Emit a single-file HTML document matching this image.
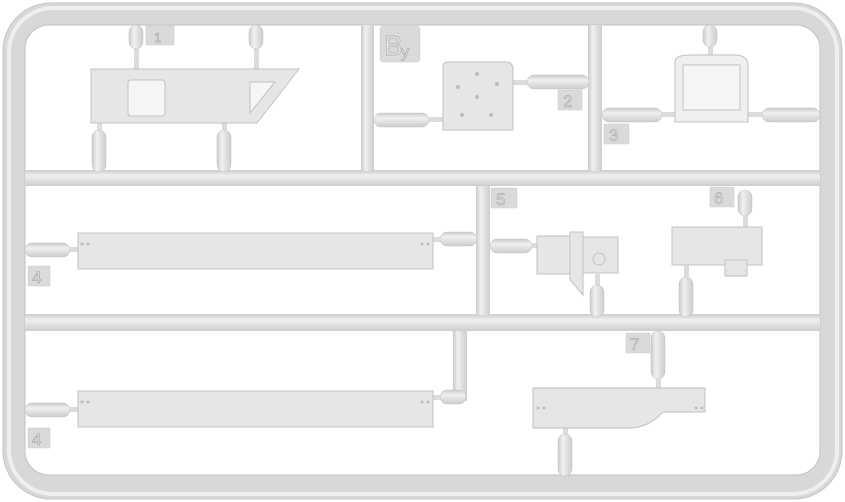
<!DOCTYPE html><html><head><style>html,body{margin:0;padding:0;background:#fff;width:845px;height:502px;overflow:hidden}</style></head><body>
<svg width="845" height="502" viewBox="0 0 845 502" xmlns="http://www.w3.org/2000/svg" font-family="Liberation Sans, sans-serif">
<defs>
<linearGradient id="h" x1="0" y1="0" x2="0" y2="1"><stop offset="0" stop-color="#cbcbcb"/><stop offset=".35" stop-color="#f0f0f0"/><stop offset="1" stop-color="#cdcdcd"/></linearGradient>
<linearGradient id="v" x1="0" y1="0" x2="1" y2="0"><stop offset="0" stop-color="#cbcbcb"/><stop offset=".35" stop-color="#f0f0f0"/><stop offset="1" stop-color="#cdcdcd"/></linearGradient>
</defs>
<rect width="845" height="502" fill="#fff"/>
<rect x="3" y="3" width="839" height="496" rx="48" fill="#d8d8d8" stroke="#c4c4c4"/>
<rect x="9" y="8" width="828" height="486" rx="44" fill="none" stroke="#efefef" stroke-width="4"/>
<rect x="25" y="25" width="795" height="450" rx="24" fill="#fff" stroke="#c2c2c2"/>
<rect x="25" y="170" width="795" height="16" fill="url(#h)"/>
<rect x="25" y="314" width="795" height="17" fill="url(#h)"/>
<rect x="361" y="25" width="13" height="146" fill="url(#v)"/>
<rect x="588" y="25" width="14" height="146" fill="url(#v)"/>
<rect x="476" y="186" width="14" height="129" fill="url(#v)"/>
<rect x="453" y="331" width="14" height="70" fill="url(#v)"/>
<g fill="#dcdcdc">
<rect x="134" y="45" width="5" height="24"/><rect x="254" y="45" width="5" height="24"/>
<rect x="97" y="123" width="5" height="12"/><rect x="222" y="123" width="5" height="12"/>
<rect x="708" y="42" width="5" height="13"/><rect x="743" y="212" width="5" height="15"/>
<rect x="684" y="265" width="5" height="15"/><rect x="595" y="274" width="5" height="15"/>
<rect x="656" y="375" width="5" height="13"/><rect x="563" y="428" width="5" height="10"/>
<rect x="425" y="117" width="18" height="5"/><rect x="513" y="80" width="18" height="5"/>
<rect x="658" y="112" width="17" height="5"/><rect x="748" y="112" width="18" height="5"/>
<rect x="66" y="247" width="12" height="5"/><rect x="66" y="407" width="12" height="5"/>
<rect x="433" y="237" width="10" height="5"/><rect x="433" y="395" width="10" height="5"/>
<rect x="528" y="243" width="9" height="5"/>
</g>
<g fill="url(#v)" stroke="#c4c4c4" stroke-width=".5">
<rect x="129" y="25" width="14" height="24" rx="7"/>
<rect x="249" y="25" width="14" height="24" rx="7"/>
<rect x="92" y="130" width="14" height="42" rx="7"/>
<rect x="217" y="130" width="14" height="42" rx="7"/>
<rect x="703" y="25" width="14" height="22" rx="7"/>
<rect x="738" y="190" width="14" height="26" rx="7"/>
<rect x="679" y="277" width="14" height="40" rx="7"/>
<rect x="590" y="285" width="14" height="32" rx="7"/>
<rect x="651" y="331" width="14" height="48" rx="7"/>
<rect x="558" y="434" width="14" height="42" rx="7"/>
</g>
<g fill="url(#h)" stroke="#c4c4c4" stroke-width=".5">
<rect x="374" y="113" width="55" height="14" rx="7"/>
<rect x="527" y="75" width="62" height="14" rx="7"/>
<rect x="602" y="108" width="60" height="14" rx="7"/>
<rect x="762" y="108" width="58" height="14" rx="7"/>
<rect x="25" y="243" width="45" height="14" rx="7"/>
<rect x="25" y="403" width="45" height="14" rx="7"/>
<rect x="440" y="232" width="37" height="14" rx="7"/>
<rect x="440" y="390" width="26" height="14" rx="7"/>
<rect x="490" y="239" width="42" height="14" rx="7"/>
</g>
<g fill="#dadada" stroke="#cacaca" stroke-width=".5">
<rect x="146" y="26" width="28" height="19"/>
<rect x="380" y="26" width="40" height="36" rx="3"/>
<rect x="558" y="90" width="24" height="20"/>
<rect x="604" y="124" width="25" height="20"/>
<rect x="28" y="266" width="22" height="20"/>
<rect x="28" y="428" width="22" height="20"/>
<rect x="491" y="188" width="26" height="20"/>
<rect x="710" y="187" width="24" height="20"/>
<rect x="626" y="333" width="24" height="20"/>
</g>
<g fill="#e6e6e6" stroke="#adadad" stroke-width=".7" font-size="17">
<text x="154" y="42" font-size="13">1</text>
<text x="384" y="55" font-size="28">B</text><text x="401" y="57" font-size="16">y</text>
<text x="563" y="107">2</text>
<text x="609" y="141">3</text>
<text x="32" y="283">4</text>
<text x="32" y="445">4</text>
<text x="496" y="205">5</text>
<text x="714" y="204">6</text>
<text x="630" y="350">7</text>
</g>
<g fill="#e6e6e6" stroke="#c2c2c2" stroke-width="1">
<path d="M91 69 H299 L257 123 H91 Z"/>
<rect x="128" y="80" width="37" height="36" rx="3" fill="#f6f6f6"/>
<path d="M250 82 H275 L250 113 Z" fill="#f6f6f6"/>
<path d="M443 66 Q443 62 450 62 H506 Q513 62 513 70 V130 H443 Z"/>
<path d="M675 62 Q675 55 690 55 H735 Q748 55 748 66 V122 H675 Z" fill="#efefef"/>
<rect x="683" y="65" width="57" height="45" fill="#f5f5f5"/>
<rect x="78" y="233" width="355" height="36"/>
<rect x="78" y="391" width="355" height="36"/>
<rect x="537" y="236" width="40" height="38"/>
<path d="M570 232 H583 V295 L570 280 Z"/>
<rect x="583" y="237" width="35" height="36"/>
<circle cx="599" cy="259" r="6"/>
<path d="M672 227 H762 V265 H672 Z"/>
<rect x="725" y="260" width="22" height="16"/>
<path d="M533 388 H705 V412 H663 Q648 428 630 428 H533 Z"/>
</g>
<g fill="#bcbcbc">
<circle cx="458" cy="87" r="2"/><circle cx="477" cy="74" r="2"/><circle cx="497" cy="84" r="2"/><circle cx="477" cy="97" r="2"/><circle cx="462" cy="115" r="2"/><circle cx="491" cy="115" r="2"/>
<circle cx="82" cy="244" r="1.5"/><circle cx="88" cy="244" r="1.5"/><circle cx="422" cy="244" r="1.5"/><circle cx="428" cy="244" r="1.5"/>
<circle cx="82" cy="402" r="1.5"/><circle cx="88" cy="402" r="1.5"/><circle cx="422" cy="402" r="1.5"/><circle cx="428" cy="402" r="1.5"/>
<circle cx="538" cy="408" r="1.5"/><circle cx="544" cy="408" r="1.5"/><circle cx="696" cy="408" r="1.5"/><circle cx="702" cy="408" r="1.5"/>
</g>
</svg>
</body></html>
